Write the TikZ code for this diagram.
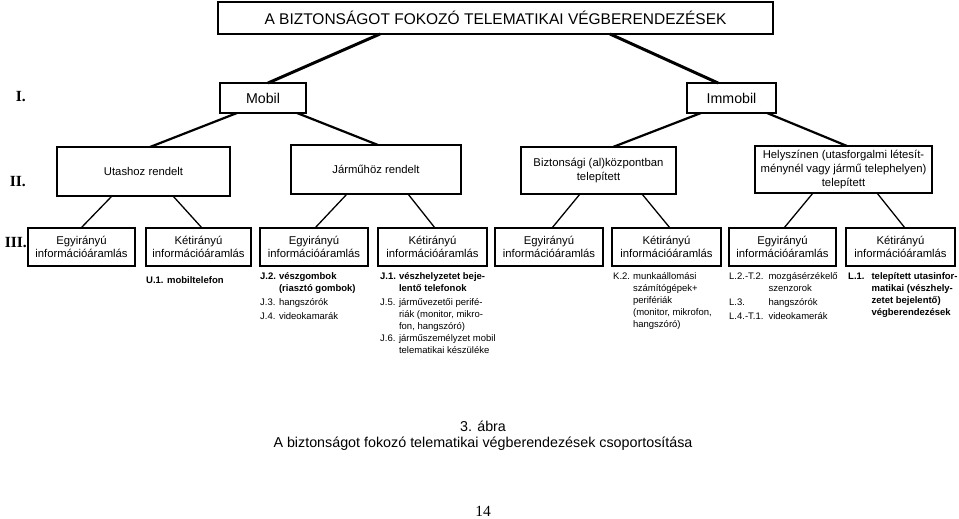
\documentclass[tikz,border=0pt]{standalone}
\usepackage{fontspec}
\setmainfont{Liberation Sans}
\newfontfamily\timesfont{Liberation Serif}
\begin{document}
\begin{tikzpicture}[x=1pt,y=-1pt,
  boxbase/.style={draw, inner sep=0pt, outer sep=0pt, align=center},
  topbox/.style={boxbase, line width=2.8pt, font=\fontsize{15.5}{18}\selectfont},
  midbox/.style={boxbase, line width=2pt, font=\fontsize{14.2}{17}\selectfont},
  grpbox/.style={boxbase, line width=1.1pt, font=\fontsize{11.3}{13.6}\selectfont},
  flowbox/.style={boxbase, line width=1.1pt, minimum height=38pt, font=\fontsize{11.3}{13.4}\selectfont},
  thickline/.style={line width=3pt},
  medline/.style={line width=2.2pt},
  thinline/.style={line width=1.3pt},
  rowlabel/.style={anchor=east, inner sep=0pt, font=\timesfont\bfseries\fontsize{15.5}{18}\selectfont},
  itemtext/.style={anchor=base west, inner sep=0pt, align=left, font=\fontsize{9.5}{12}\selectfont},
  captext/.style={inner sep=0pt, font=\fontsize{14.3}{17}\selectfont}
]
\useasboundingbox (0,0) rectangle (959,519);

% level 0
\node[topbox, minimum width=555pt, minimum height=32pt] (title) at (495.5,18) {A BIZTONSÁGOT FOKOZÓ TELEMATIKAI VÉGBERENDEZÉSEK};

% level I
\node[midbox, minimum width=86pt, minimum height=30pt] (mobil) at (263,98) {Mobil};
\node[midbox, minimum width=89pt, minimum height=30pt] (immobil) at (731.5,98) {Immobil};

% level II
\node[grpbox, minimum width=173pt, minimum height=49pt] (utas) at (143.5,171.5) {Utashoz rendelt};
\node[grpbox, minimum width=170pt, minimum height=49pt] (jarmu) at (376,169.5) {Járműhöz rendelt};
\node[grpbox, minimum width=155pt, minimum height=47pt] (bizt) at (598.5,170.5) {Biztonsági (al)központban\\telepített};
\node[grpbox, minimum width=177pt, minimum height=47pt] (hely) at (843.5,169.5) {Helyszínen (utasforgalmi létesít-\\ménynél vagy jármű telephelyen)\\telepített};

% level III
\node[flowbox, minimum width=107pt] (b1) at (81.5,247) {Egyirányú\\információáramlás};
\node[flowbox, minimum width=105pt] (b2) at (198.5,247) {Kétirányú\\információáramlás};
\node[flowbox, minimum width=108pt] (b3) at (314,247) {Egyirányú\\információáramlás};
\node[flowbox, minimum width=109pt] (b4) at (432.5,247) {Kétirányú\\információáramlás};
\node[flowbox, minimum width=108pt] (b5) at (549,247) {Egyirányú\\információáramlás};
\node[flowbox, minimum width=109pt] (b6) at (666.5,247) {Kétirányú\\információáramlás};
\node[flowbox, minimum width=107pt] (b7) at (782.5,247) {Egyirányú\\információáramlás};
\node[flowbox, minimum width=109pt] (b8) at (900.5,247) {Kétirányú\\információáramlás};

% connectors
\draw[thickline] ([xshift=-115.5pt]title.south) -- ([xshift=5pt]mobil.north);
\draw[thickline] ([xshift=114.5pt]title.south) -- ([xshift=-13.5pt]immobil.north);

\draw[medline] ([xshift=-26pt]mobil.south) -- ([xshift=6.5pt]utas.north);
\draw[medline] ([xshift=34pt]mobil.south) -- ([xshift=2pt]jarmu.north);
\draw[medline] ([xshift=-30.5pt]immobil.south) -- ([xshift=14.5pt]bizt.north);
\draw[medline] ([xshift=35.5pt]immobil.south) -- ([xshift=3.5pt]hely.north);

\draw[thinline] ([xshift=-31.5pt]utas.south) -- ([xshift=-0.5pt]b1.north);
\draw[thinline] ([xshift=29.5pt]utas.south) -- ([xshift=3.5pt]b2.north);
\draw[thinline] ([xshift=-29pt]jarmu.south) -- ([xshift=1pt]b3.north);
\draw[thinline] ([xshift=32pt]jarmu.south) -- ([xshift=2.5pt]b4.north);
\draw[thinline] ([xshift=-18.5pt]bizt.south) -- ([xshift=3pt]b5.north);
\draw[thinline] ([xshift=43.5pt]bizt.south) -- ([xshift=3.5pt]b6.north);
\draw[thinline] ([xshift=-30.5pt]hely.south) -- ([xshift=1.5pt]b7.north);
\draw[thinline] ([xshift=33.5pt]hely.south) -- ([xshift=4.5pt]b8.north);

% row labels
\node[rowlabel] (lI) at (26,97) {I.};
\node[rowlabel] (lII) at (26,182) {II.};
\node[rowlabel] (lIII) at (27,243) {III.};

% item lists
\node[itemtext] (tU) at (146,283) {\textbf{U.1. mobiltelefon}};
\node[itemtext] (tJa) at (260,279) {\begin{tabular}[t]{@{}l@{\hspace{3pt}}l@{}}
\textbf{J.2.} & \textbf{vészgombok}\\
 & \textbf{(riasztó gombok)}\\[2pt]
J.3. & hangszórók\\[2pt]
J.4. & videokamarák
\end{tabular}};
\node[itemtext] (tJb) at (380,279) {\begin{tabular}[t]{@{}l@{\hspace{3pt}}l@{}}
\textbf{J.1.} & \textbf{vészhelyzetet beje-}\\
 & \textbf{lentő telefonok}\\[2pt]
J.5. & járművezetői perifé-\\
 & riák (monitor, mikro-\\
 & fon, hangszóró)\\
J.6. & járműszemélyzet mobil\\
 & telematikai készüléke
\end{tabular}};
\node[itemtext] (tK) at (613,279) {\begin{tabular}[t]{@{}l@{\hspace{3pt}}l@{}}
K.2. & munkaállomási\\
 & számítógépek+\\
 & perifériák\\
 & (monitor, mikrofon,\\
 & hangszóró)
\end{tabular}};
\node[itemtext] (tL) at (729,279) {\begin{tabular}[t]{@{}l@{\hspace{5pt}}l@{}}
L.2.-T.2. & mozgásérzékelő\\
 & szenzorok\\[2pt]
L.3. & hangszórók\\[2pt]
L.4.-T.1. & videokamerák
\end{tabular}};
\node[itemtext] (tL1) at (848,279) {\begin{tabular}[t]{@{}l@{\hspace{7pt}}l@{}}
\textbf{L.1.} & \textbf{telepített utasinfor-}\\
 & \textbf{matikai (vészhely-}\\
 & \textbf{zetet bejelentő)}\\
 & \textbf{végberendezések}
\end{tabular}};

% caption
\node[captext] (cap1) at (483,426) {3. ábra};
\node[captext] (cap2) at (483,444) {A biztonságot fokozó telematikai végberendezések csoportosítása};
\node[inner sep=0pt, font=\timesfont\fontsize{15.5}{18}\selectfont] (page) at (483,511) {14};
\end{tikzpicture}
\end{document}
